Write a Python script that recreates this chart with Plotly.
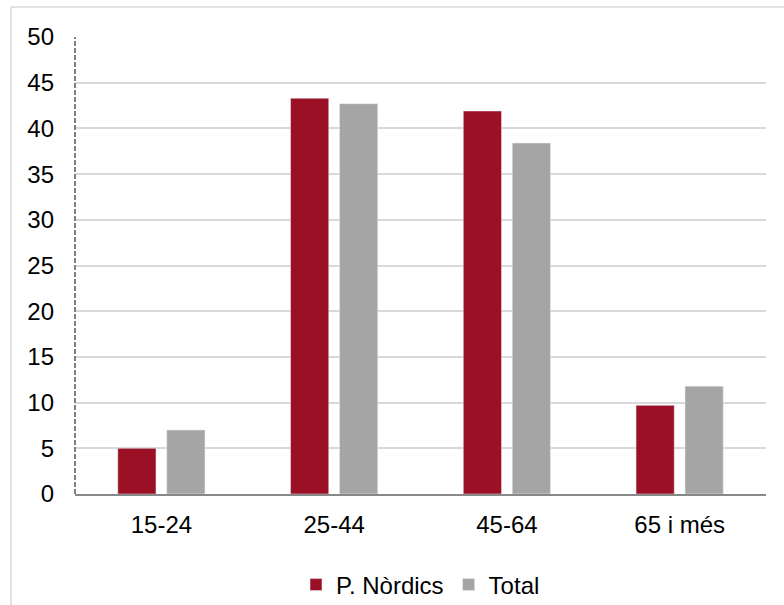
import plotly.graph_objects as go

categories = ["15-24", "25-44", "45-64", "65 i més"]
nordics = [5.0, 43.3, 41.9, 9.7]
total = [7.0, 42.7, 38.4, 11.8]
y_ticks = [0, 5, 10, 15, 20, 25, 30, 35, 40, 45, 50]

RED = "#9C1026"
GRAY = "#A5A5A5"
FONT = "Liberation Sans, Arial, sans-serif"

fig = go.Figure()
fig.add_trace(go.Bar(name="P. Nòrdics", x=categories, y=nordics, marker_color=RED))
fig.add_trace(go.Bar(name="Total", x=categories, y=total, marker_color=GRAY))

W, H = 784, 605
L, R, T, B = 75, 18, 37, 111
pw, ph = W - L - R, H - T - B

fig.update_layout(
    width=W, height=H,
    margin=dict(l=L, r=R, t=T, b=B, autoexpand=False),
    paper_bgcolor="white", plot_bgcolor="white",
    barmode="group", bargap=0.433, bargroupgap=0.22,
    font=dict(family=FONT, size=24, color="#000000"),
    showlegend=True,
    legend=dict(orientation="h", x=0.5, xanchor="center", y=(494 - 585) / ph,
                yanchor="middle", font=dict(size=24), itemwidth=30,
                bgcolor="rgba(0,0,0,0)"),
)
fig.update_yaxes(
    range=[0, 50], tickvals=y_ticks, showgrid=True, gridcolor="#D9D9D9", gridwidth=1.5,
    zeroline=False, showline=False, ticks="", ticklabelstandoff=20,
)
fig.update_xaxes(
    showline=True, linecolor="#898989", linewidth=2, ticks="", ticklabelstandoff=8,
    showgrid=False,
)
# dashed y axis line
fig.add_shape(type="line", xref="paper", yref="paper", x0=0, x1=0, y0=0, y1=1,
              line=dict(color="#7F7F7F", width=2, dash="5px,2px"), layer="above")
# outer border (left and top)
fig.add_shape(type="line", xref="paper", yref="paper",
              x0=(11 - L) / pw, x1=(11 - L) / pw, y0=(494 - 620) / ph, y1=(494 - 7) / ph,
              line=dict(color="#D9D9D9", width=1.5))
fig.add_shape(type="line", xref="paper", yref="paper",
              x0=(11 - L) / pw, x1=(800 - L) / pw, y0=(494 - 7) / ph, y1=(494 - 7) / ph,
              line=dict(color="#D9D9D9", width=1.5))

fig.write_html("out.html", config={"displayModeBar": False},
               post_script="document.body.style.margin='0';")
